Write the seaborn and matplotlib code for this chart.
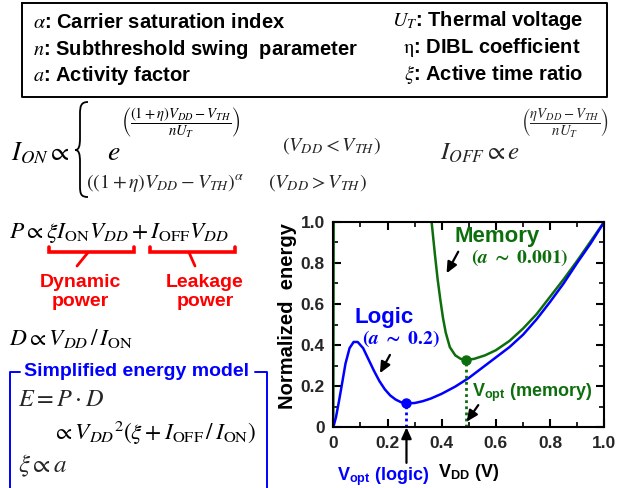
import numpy as np
import pandas as pd
import matplotlib
matplotlib.use("Agg")
import matplotlib.pyplot as plt
import seaborn as sns
from matplotlib.lines import Line2D
from matplotlib.path import Path
from matplotlib.patches import PathPatch
from matplotlib.transforms import Affine2D
from matplotlib.ticker import MultipleLocator, FixedLocator, FixedFormatter
from matplotlib.mathtext import MathTextParser

# ---------------- data ----------------
logic_vdd = [0.0, 0.01, 0.02, 0.03, 0.045, 0.06, 0.075, 0.09, 0.11, 0.13, 0.15, 0.17,
             0.19, 0.21, 0.23, 0.25, 0.27, 0.30, 0.33, 0.36, 0.40, 0.45, 0.50, 0.55,
             0.60, 0.65, 0.70, 0.75, 0.80, 0.85, 0.90, 0.95, 1.0]
logic_energy = [0.0, 0.05, 0.12, 0.195, 0.31, 0.385, 0.415, 0.415, 0.385, 0.33, 0.275, 0.225,
                0.185, 0.155, 0.135, 0.122, 0.117, 0.118, 0.127, 0.14, 0.163, 0.198, 0.24, 0.29,
                0.34, 0.39, 0.45, 0.525, 0.61, 0.70, 0.80, 0.895, 1.0]
memory_vdd = [0.0, 0.004, 0.355, 0.365, 0.375, 0.385, 0.395, 0.405, 0.415, 0.43, 0.45,
              0.47, 0.49, 0.52, 0.56, 0.60, 0.65, 0.70, 0.75, 0.80, 0.85, 0.90, 0.95, 1.0]
memory_energy = [0.0, 3.0, 1.1, 0.97, 0.84, 0.72, 0.62, 0.53, 0.46, 0.39, 0.35,
                 0.333, 0.327, 0.333, 0.35, 0.375, 0.42, 0.48, 0.55, 0.635, 0.72, 0.81, 0.905, 1.0]
vopt_logic, emin_logic = 0.27, 0.117
vopt_memory, emin_memory = 0.49, 0.327
x_ticks = [0.0, 0.2, 0.4, 0.6, 0.8, 1.0]
x_ticklabels = ["0", "0.2", "0.4", "0.6", "0.8", "1.0"]
y_ticks = [0.0, 0.2, 0.4, 0.6, 0.8, 1.0]
y_ticklabels = ["0", "0.2", "0.4", "0.6", "0.8", "1.0"]

BLUE = "#0000ff"
GREEN = "#0d6e0d"
RED = "#ff0000"

sns.set_theme(style="ticks")
plt.rcParams["font.family"] = ["Liberation Sans", "DejaVu Sans"]
plt.rcParams["mathtext.fontset"] = "stix"

W, H = 623, 488
fig = plt.figure(figsize=(W / 100, H / 100), dpi=100)
fig.patch.set_facecolor("white")
renderer = fig.canvas.get_renderer()
PIX = Affine2D().scale(1 / W, -1 / H).translate(0, 1) + fig.transFigure


def fline(xs, ys, **kw):
    fig.add_artist(Line2D(xs, ys, transform=PIX, **kw))


def ftext(x, y, s, **kw):
    return fig.text(x, y, s, transform=PIX, **kw)


def right_edge(t):
    return t.get_window_extent(renderer).x1


def safe_math(preferred, fallback):
    try:
        MathTextParser("path").parse(preferred)
        return preferred
    except Exception:
        return fallback


# ---------------- top definition box ----------------
fline([22, 607, 607, 22, 22], [3, 3, 97, 97, 3], color="black", lw=1.4)
bold_kw = dict(fontsize=14.5, fontweight="bold", color="black", va="baseline")
ftext(33, 28, r"$\alpha$: Carrier saturation index", ha="left", **bold_kw)
ftext(33, 55, r"$n$: Subthreshold swing  parameter", ha="left", **bold_kw)
ftext(33, 81, r"$a$: Activity factor", ha="left", **bold_kw)
ftext(583, 26, r"$U_T$: Thermal voltage", ha="right", **bold_kw)
ftext(581, 53, r"$\mathrm{\eta}$: DIBL coefficient", ha="right", **bold_kw)
ftext(583, 80, r"$\xi$: Active time ratio", ha="right", **bold_kw)

# ---------------- current equations ----------------
ftext(11, 160, r"$I_{ON}\propto$", fontsize=19, va="baseline", ha="left", color="black")
brace = Path([(88, 102), (81, 102), (80, 106), (80, 114), (80, 138),
              (80, 146), (79, 150), (75, 150),
              (79, 150), (80, 154), (80, 162), (80, 186),
              (80, 194), (81, 197), (88, 197)],
             [Path.MOVETO, Path.CURVE4, Path.CURVE4, Path.CURVE4, Path.LINETO,
              Path.CURVE4, Path.CURVE4, Path.CURVE4,
              Path.CURVE4, Path.CURVE4, Path.CURVE4, Path.LINETO,
              Path.CURVE4, Path.CURVE4, Path.CURVE4])
fig.add_artist(PathPatch(brace, transform=PIX, fill=False, lw=1.3, edgecolor="black"))

t_e = ftext(107, 160, r"$e$", fontsize=20, va="baseline", ha="left", color="black")
fig.canvas.draw()
ftext(right_edge(t_e) + 1, 123, r"$\left(\dfrac{(1+\eta)V_{DD}-V_{TH}}{nU_T}\right)$",
      fontsize=10.5, va="center", ha="left", color="black")
ftext(282, 151, r"$\left(V_{DD}<V_{TH}\right)$", fontsize=14.5, va="baseline", ha="left")
ftext(86, 188, r"$\left(\left(1+\eta\right)V_{DD}-V_{TH}\right)^{\alpha}$", fontsize=14.3,
      va="baseline", ha="left")
ftext(268, 188, r"$\left(V_{DD}>V_{TH}\right)$", fontsize=14.5, va="baseline", ha="left")

t_off = ftext(440, 160, r"$I_{OFF}\propto e$", fontsize=18, va="baseline", ha="left")
fig.canvas.draw()
ftext(right_edge(t_off) + 1, 123, r"$\left(\dfrac{\eta V_{DD}-V_{TH}}{nU_T}\right)$",
      fontsize=10.5, va="center", ha="left")

# ---------------- power / delay ----------------
eq2 = dict(fontsize=16.8, color="black", va="baseline", ha="left")
ftext(9, 238, r"$P\propto\xi I_{\mathrm{ON}}V_{DD}+I_{\mathrm{OFF}}V_{DD}$", **eq2)
for (x0, x1, sx0, sx1) in [(49, 134, 88, 77), (150, 235, 189, 195)]:
    fline([x0, x0, x1, x1], [246.5, 252, 252, 246.5], color=RED, lw=2.6,
          solid_joinstyle="miter")
    fline([sx0, sx1], [252.5, 266], color=RED, lw=2.0)
red_kw = dict(fontsize=14, fontweight="bold", color=RED, ha="center", va="center",
              linespacing=1.2)
ftext(80, 292, "Dynamic\npower", **red_kw)
ftext(205, 292, "Leakage\npower", **red_kw)
ftext(9, 345, r"$D\propto V_{DD}\,/\,I_{\mathrm{ON}}$", **eq2)

# ---------------- simplified energy model box ----------------
fline([20, 10, 10], [372, 372, 490], color=BLUE, lw=1.4)
fline([255, 267, 267], [372, 372, 490], color=BLUE, lw=1.4)
ftext(137, 372, "Simplified energy model", fontsize=14, fontweight="bold", color=BLUE,
      ha="center", va="center")
ftext(18, 406, r"$E=P\cdot D$", fontsize=17.5, va="baseline", ha="left")
ftext(52, 440, r"$\propto V_{DD}{}^{2}\left(\xi+I_{\mathrm{OFF}}\,/\,I_{\mathrm{ON}}\right)$", **eq2)
ftext(18, 472, r"$\xi\propto a$", fontsize=18, va="baseline", ha="left")

# ---------------- chart ----------------
ax = fig.add_axes([333.3 / W, 1 - 427.3 / H, 271 / W, 205.6 / H])
df_logic = pd.DataFrame({"VDD": logic_vdd, "Energy": logic_energy})
df_mem = pd.DataFrame({"VDD": memory_vdd, "Energy": memory_energy})
sns.lineplot(data=df_mem, x="VDD", y="Energy", ax=ax, color=GREEN, lw=1.8,
             estimator=None, sort=False)
sns.lineplot(data=df_logic, x="VDD", y="Energy", ax=ax, color=BLUE, lw=1.8,
             estimator=None, sort=False)

ax.plot([vopt_logic, vopt_logic], [0, emin_logic], color=BLUE, lw=2, ls=(0, (1, 1.2)))
ax.plot([vopt_memory, vopt_memory], [0, emin_memory], color=GREEN, lw=2, ls=(0, (1, 1.2)))
ax.plot([vopt_logic], [emin_logic], "o", color=BLUE, ms=6.5, zorder=5)
ax.plot([vopt_memory], [emin_memory], "o", color=GREEN, ms=6.5, zorder=5)

ax.set_xlim(0, 1)
ax.set_ylim(0, 1)
ax.xaxis.set_major_locator(FixedLocator(x_ticks))
ax.xaxis.set_major_formatter(FixedFormatter(x_ticklabels))
ax.yaxis.set_major_locator(FixedLocator(y_ticks))
ax.yaxis.set_major_formatter(FixedFormatter(y_ticklabels))
ax.xaxis.set_minor_locator(MultipleLocator(0.1))
ax.yaxis.set_minor_locator(MultipleLocator(0.1))
ax.tick_params(which="both", direction="in", top=True, right=True, color="black")
ax.tick_params(which="major", length=6, width=1.5, labelsize=12.5, pad=6)
ax.tick_params(which="minor", length=3.5, width=1.2)
for lab in ax.get_xticklabels() + ax.get_yticklabels():
    lab.set_fontweight("bold")
for sp in ax.spines.values():
    sp.set_linewidth(1.5)
    sp.set_color("black")

ax.set_xlabel(r"V$_{\mathregular{DD}}$ (V)", fontsize=13, fontweight="bold", color="black")
ax.xaxis.set_label_coords(0.5, -0.17)
ax.set_ylabel("Normalized  energy", fontsize=14.5, fontweight="bold", color="black")
ax.yaxis.set_label_coords(-0.135, 0.54)

ax.text(0.187, 0.536, "Logic", fontsize=16, fontweight="bold", color=BLUE,
        ha="center", va="center")
s_logic = safe_math(r"$\mathbf{(}\mathbfit{a}\mathbf{\ \sim\ 0.2)}$",
                    r"$\mathbf{(}\mathit{a}\mathbf{\ \sim\ 0.2)}$")
ax.text(0.25, 0.43, s_logic, fontsize=14, color=BLUE, ha="center", va="center")
ax.text(0.604, 0.93, "Memory", fontsize=16, fontweight="bold", color=GREEN,
        ha="center", va="center")
s_mem = safe_math(r"$\mathbf{(}\mathbfit{a}\mathbf{\ \sim\ 0.001)}$",
                  r"$\mathbf{(}\mathit{a}\mathbf{\ \sim\ 0.001)}$")
ax.text(0.689, 0.825, s_mem, fontsize=14, color=GREEN, ha="center", va="center")
ax.text(0.51, 0.17, r"V$_{\mathregular{opt}}$ (memory)", fontsize=13, fontweight="bold",
        color=GREEN, ha="left", va="center")
ax.text(0.185, -0.238, r"V$_{\mathregular{opt}}$ (logic)", fontsize=13, fontweight="bold",
        color=BLUE, ha="center", va="center", clip_on=False)

arrow = dict(arrowstyle="-|>,head_length=0.55,head_width=0.25", color="black", lw=1.6,
             shrinkA=0, shrinkB=0)
ax.annotate("", xy=(0.172, 0.263), xytext=(0.209, 0.352), arrowprops=arrow)
ax.annotate("", xy=(0.418, 0.749), xytext=(0.461, 0.854), arrowprops=arrow)
ax.annotate("", xy=(0.492, 0.027), xytext=(0.535, 0.108), arrowprops=arrow)
ax.annotate("", xy=(vopt_logic, 0.0), xytext=(vopt_logic, -0.173), arrowprops=arrow,
            annotation_clip=False)

fig.savefig("out.png", dpi=100, facecolor="white")
